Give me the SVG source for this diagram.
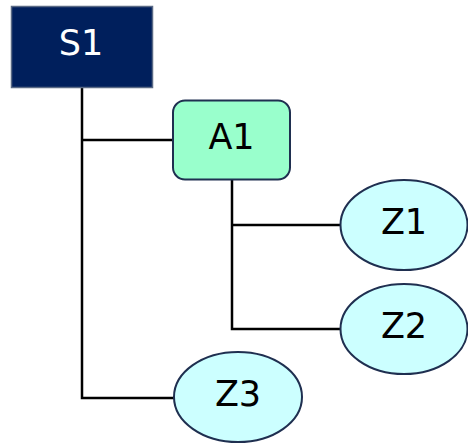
<svg xmlns="http://www.w3.org/2000/svg" width="468" height="445" viewBox="0 0 468 445">
<style>
.lbl{font-family:"DejaVu Sans",Verdana,sans-serif;font-size:35px;text-anchor:middle}
.oval{fill:#ccffff;stroke:#1f2f50;stroke-width:2}
.conn{fill:none;stroke:#000;stroke-width:2.5}
</style>
<rect width="468" height="445" fill="#fff"/>
<g id="connectors">
<polyline class="conn" points="82,88 82,398 174,398"/>
<line class="conn" x1="82" y1="140" x2="173" y2="140"/>
<polyline class="conn" points="232,180 232,329 341,329"/>
<line class="conn" x1="232" y1="225" x2="341" y2="225"/>
</g>
<g id="S1">
<rect x="11.5" y="6.5" width="141" height="81" fill="#001f5c" stroke="#5a6a85" stroke-width="1.5"/>
<text class="lbl" x="81" y="55" fill="#fff">S1</text>
</g>
<g id="A1">
<rect x="173" y="100.5" width="117" height="79" rx="12" fill="#99ffcc" stroke="#1f2f50" stroke-width="2"/>
<text class="lbl" x="231.5" y="149">A1</text>
</g>
<g id="Z1">
<ellipse class="oval" cx="404" cy="225" rx="63.5" ry="45"/>
<text class="lbl" x="404" y="234">Z1</text>
</g>
<g id="Z2">
<ellipse class="oval" cx="404" cy="329" rx="63.5" ry="45"/>
<text class="lbl" x="404" y="338">Z2</text>
</g>
<g id="Z3">
<ellipse class="oval" cx="238" cy="397" rx="64" ry="45"/>
<text class="lbl" x="238" y="406">Z3</text>
</g>
</svg>
